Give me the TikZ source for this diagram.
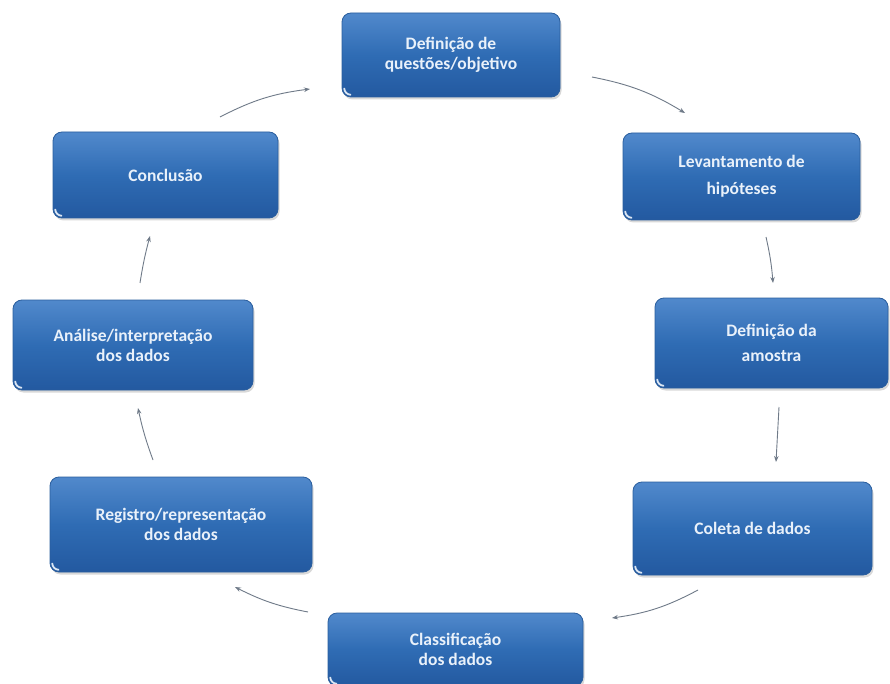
\documentclass[tikz,border=0pt]{standalone}
\usepackage{fontspec}
\setmainfont{Carlito}
\usetikzlibrary{arrows.meta,shadows}
\definecolor{boxtop}{HTML}{5189CC}
\definecolor{boxmid}{HTML}{2F6CB4}
\definecolor{boxbot}{HTML}{2359A0}
\definecolor{boxedge}{HTML}{2A5E9E}
\definecolor{txt}{HTML}{E9F1FA}
\definecolor{arr}{HTML}{6F7A88}
\definecolor{curl}{HTML}{DCE7F4}
\tikzset{
  stepbox/.style={rectangle, rounded corners=9pt,
    top color=boxtop, bottom color=boxbot, middle color=boxmid,
    draw=boxedge, line width=0.8pt, text=txt,
    font=\fontsize{17.5}{20}\selectfont\bfseries, align=center, inner sep=0pt,
    drop shadow={opacity=0.3, shadow xshift=1.5pt, shadow yshift=-2.5pt},
    path picture={\draw[curl, line width=1.8pt, line cap=round]
      ([shift={(2.2pt,8.5pt)}]path picture bounding box.south west)
      to[bend right=40]
      ([shift={(8.5pt,2.2pt)}]path picture bounding box.south west);}},
  cyc/.style={draw=arr, line width=0.9pt, -{Stealth[length=6pt,width=4.5pt]}}
}
\begin{document}
\begin{tikzpicture}[x=1pt,y=-1pt]
\fill[white] (0,0) rectangle (890,684);
\useasboundingbox (0,0) rectangle (890,684);

\node[stepbox, minimum width=218pt, minimum height=84pt] (q) at (451,55) {Definição de\\questões/objetivo};
\node[stepbox, minimum width=237pt, minimum height=87pt] (lev) at (741.5,176.5) {Levantamento de\\[7pt]hipóteses};
\node[stepbox, minimum width=233pt, minimum height=90pt] (amo) at (771.5,343) {Definição da\\[5pt]amostra};
\node[stepbox, minimum width=239pt, minimum height=93pt] (col) at (752.5,528.5) {Coleta de dados};
\node[stepbox, minimum width=255pt, minimum height=73pt] (cla) at (455.5,649.5) {Classificação\\dos dados};
\node[stepbox, minimum width=262pt, minimum height=95pt] (reg) at (181,524.5) {Registro/representação\\dos dados};
\node[stepbox, minimum width=240pt, minimum height=90pt] (ana) at (133,345) {Análise/interpretação\\dos dados};
\node[stepbox, minimum width=225pt, minimum height=86pt] (con) at (165.5,175) {Conclusão};

\coordinate (a1s) at (220,117); \coordinate (a1e) at (310,89);
\coordinate (a2s) at (592,77);  \coordinate (a2e) at (685,113);
\coordinate (a3s) at (766,237); \coordinate (a3e) at (773,283);
\coordinate (a4s) at (779,407); \coordinate (a4e) at (776,462);
\coordinate (a5s) at (698,590); \coordinate (a5e) at (612,618);
\coordinate (a6s) at (308,612); \coordinate (a6e) at (235,587);
\coordinate (a7s) at (153,460); \coordinate (a7e) at (138,408);
\coordinate (a8s) at (140,283); \coordinate (a8e) at (150,236);

\draw[cyc] (a1s) to[bend left=10] (a1e);
\draw[cyc] (a2s) to[bend left=10] (a2e);
\draw[cyc] (a3s) to[bend left=4] (a3e);
\draw[cyc] (a4s) to (a4e);
\draw[cyc] (a5s) to[bend left=10] (a5e);
\draw[cyc] (a6s) to[bend left=8] (a6e);
\draw[cyc] (a7s) to[bend left=4] (a7e);
\draw[cyc] (a8s) to[bend left=3] (a8e);
\end{tikzpicture}
\end{document}
